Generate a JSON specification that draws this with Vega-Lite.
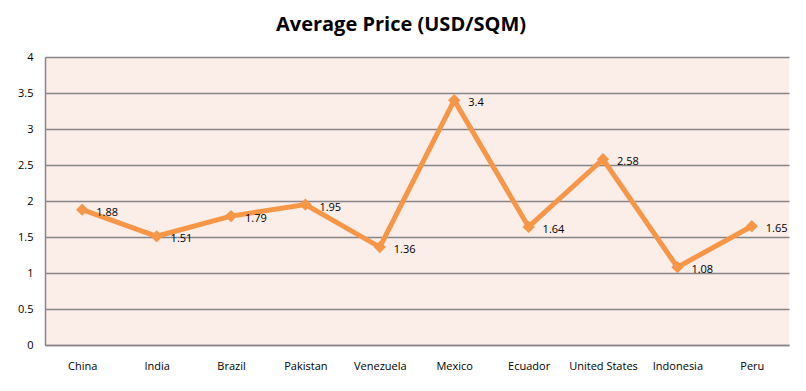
{
  "$schema": "https://vega.github.io/schema/vega-lite/v6.json",
  "width": 744,
  "height": 288,
  "autosize": {"type": "none"},
  "padding": {"left": 45, "top": 57, "right": 17, "bottom": 46},
  "background": "white",
  "title": {
    "text": "Average Price (USD/SQM)",
    "font": "Open Sans",
    "fontSize": 20,
    "fontWeight": "bold",
    "color": "#000000",
    "anchor": "middle",
    "dx": -16,
    "offset": 16
  },
  "config": {
    "view": {"fill": "#FBEDE8", "stroke": null},
    "font": "Open Sans"
  },
  "data": {
    "values": [
      {"country": "China", "price": 1.88},
      {"country": "India", "price": 1.51},
      {"country": "Brazil", "price": 1.79},
      {"country": "Pakistan", "price": 1.95},
      {"country": "Venezuela", "price": 1.36},
      {"country": "Mexico", "price": 3.4},
      {"country": "Ecuador", "price": 1.64},
      {"country": "United States", "price": 2.58},
      {"country": "Indonesia", "price": 1.08},
      {"country": "Peru", "price": 1.65}
    ]
  },
  "encoding": {
    "x": {
      "field": "country",
      "type": "nominal",
      "sort": null,
      "scale": {"paddingInner": 0, "paddingOuter": 0},
      "axis": {
        "title": null,
        "labelAngle": 0,
        "labelFont": "Open Sans",
        "labelFontSize": 11,
        "labelColor": "#000000",
        "labelPadding": 15,
        "ticks": false,
        "domainColor": "#868686",
        "domainWidth": 1.5,
        "grid": false
      }
    },
    "y": {
      "field": "price",
      "type": "quantitative",
      "scale": {"domain": [0, 4], "nice": false},
      "axis": {
        "title": null,
        "values": [0, 0.5, 1, 1.5, 2, 2.5, 3, 3.5, 4],
        "labelExpr": "datum.value + ''",
        "labelFont": "Open Sans",
        "labelFontSize": 11,
        "labelColor": "#000000",
        "labelPadding": 12,
        "ticks": false,
        "domainColor": "#868686",
        "domainWidth": 1.5,
        "gridColor": "#868686",
        "gridWidth": 1.3
      }
    }
  },
  "layer": [
    {
      "mark": {"type": "line", "color": "#F79646", "strokeWidth": 5, "strokeJoin": "miter"}
    },
    {
      "mark": {"type": "point", "shape": "diamond", "filled": true, "color": "#F79646", "size": 150, "opacity": 1}
    },
    {
      "mark": {"type": "text", "align": "left", "baseline": "middle", "dx": 14, "dy": 3, "fontSize": 11, "font": "Open Sans", "color": "#000000"},
      "encoding": {"text": {"field": "price", "type": "quantitative"}}
    }
  ]
}
